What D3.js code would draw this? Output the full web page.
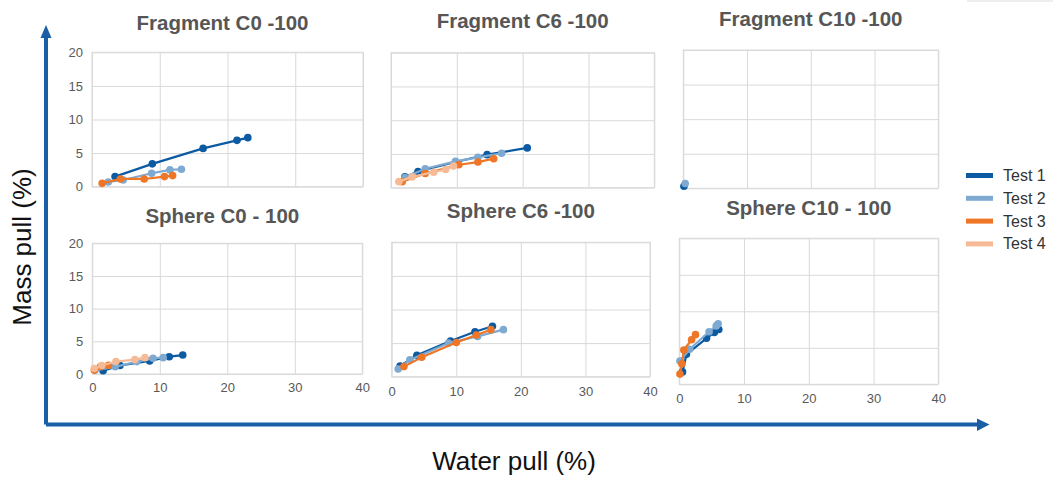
<!DOCTYPE html>
<html>
<head>
<meta charset="utf-8">
<script src="https://cdn.jsdelivr.net/npm/d3@7"></script>
<style>
  body { margin: 0; background: #fff; }
  text { font-family: "Liberation Sans", Arial, sans-serif; }
</style>
</head>
<body>
<div id="chart"></div>
<script>
// tick values shared by every panel
const xTicks = [0, 10, 20, 30, 40]
const yTicks = [0, 5, 10, 15, 20]
const tests = ['Test 1', 'Test 2', 'Test 3', 'Test 4']
const colors = ['#0b5aa2', '#7eaad2', '#ee7626', '#f6bb96']

// [water pull, mass pull] per test, one array per panel
const fragmentC0 = [
    [[3.4, 1.5], [8.9, 3.4], [16.4, 5.7], [21.4, 6.9], [23.0, 7.3]],
    [[2.4, 0.7], [4.6, 1.0], [8.8, 2.0], [11.5, 2.5], [13.2, 2.6]],
    [[1.5, 0.5], [4.2, 1.15], [7.7, 1.15], [10.7, 1.5], [11.9, 1.65]],
    []
]
const fragmentC6 = [
    [[2.1, 1.6], [4.1, 2.4], [9.8, 3.8], [14.6, 4.9], [20.7, 5.9]],
    [[2.1, 1.5], [5.2, 2.8], [9.8, 3.9], [13.2, 4.5], [16.8, 5.1]],
    [[1.7, 0.9], [5.2, 2.1], [10.3, 3.4], [13.2, 3.8], [15.6, 4.3]],
    [[1.2, 0.9], [3.2, 1.6], [6.5, 2.3], [8.3, 2.7], [9.5, 3.2]]
]
const fragmentC10 = [
    [[0.1, 0.3]],
    [[0.3, 0.7]],
    [],
    []
]
const sphereC0 = [
    [[1.6, 0.5], [4.1, 1.3], [8.5, 2.0], [11.4, 2.65], [13.4, 2.9]],
    [[0.4, 0.6], [3.4, 1.1], [6.6, 1.9], [9.0, 2.4], [10.5, 2.5]],
    [[0.3, 0.6], [1.2, 1.1], [2.4, 1.35]],
    [[0.3, 0.85], [1.4, 1.3], [3.5, 1.9], [6.3, 2.2], [7.8, 2.5]]
]
const sphereC6 = [
    [[1.3, 1.6], [3.9, 3.2], [9.1, 5.3], [12.9, 6.7], [15.6, 7.5]],
    [[1.0, 1.15], [2.8, 2.5], [8.8, 5.0], [13.3, 6.0], [17.3, 7.0]],
    [[1.9, 1.5], [4.65, 2.9], [10.0, 5.1], [13.1, 6.2], [15.35, 7.0]],
    []
]
const sphereC10 = [
    [[0.5, 1.7], [1.1, 4.1], [4.2, 6.3], [5.4, 7.1], [6.1, 7.5]],
    [[0.1, 3.2], [1.6, 4.8], [4.6, 7.2], [5.7, 8.0], [6.0, 8.3]],
    [[0.1, 1.4], [0.4, 2.8], [0.7, 4.7], [1.9, 6.1], [2.5, 6.8]],
    []
]

const W = 1054, H = 483

// plot boxes (left, right, top, bottom) and title baselines
const panels = [
    { title: 'Fragment C0 -100', data: fragmentC0, box: [92, 363, 52.3, 186.7], ty: 29.5, yLab: true, xLab: false, pad: 9 },
    { title: 'Fragment C6 -100', data: fragmentC6, box: [391, 654.3, 52.7, 187.7], ty: 27.5, yLab: false, xLab: false, pad: 9 },
    { title: 'Fragment C10 -100', data: fragmentC10, box: [683.3, 938.3, 50, 188.3], ty: 26, yLab: false, xLab: false, pad: 9 },
    { title: 'Sphere C0 - 100', data: sphereC0, box: [92.3, 362.3, 243.3, 374], ty: 222.5, yLab: true, xLab: true, pad: 9 },
    { title: 'Sphere C6 -100', data: sphereC6, box: [391.7, 650, 242.3, 376.7], ty: 217.5, yLab: false, xLab: true, pad: 10 },
    { title: 'Sphere C10 - 100', data: sphereC10, box: [679.3, 938.3, 238.3, 384.3], ty: 214.5, yLab: false, xLab: true, pad: 9 },
]

const svg = d3.select('#chart').append('svg')
    .attr('width', W)
    .attr('height', H)

svg.append('rect').attr('x', 967).attr('y', 0).attr('width', 86).attr('height', 2).attr('fill', '#eeeeee')

panels.forEach(p => {
    const [l, r, t, b] = p.box
    const x = d3.scaleLinear().domain([0, 40]).range([l, r])
    const y = d3.scaleLinear().domain([0, 20]).range([b, t])
    const g = svg.append('g')

    // grid through axes
    const gy = g.append('g')
        .attr('transform', 'translate(' + l + ',0)')
        .call(d3.axisLeft(y).tickValues(yTicks).tickSize(-(r - l)).tickPadding(9))
    const gx = g.append('g')
        .attr('transform', 'translate(0,' + b + ')')
        .call(d3.axisBottom(x).tickValues(xTicks).tickSize(-(b - t)).tickPadding(p.pad))
    ;[gx, gy].forEach(a => {
        a.select('.domain').remove()
        a.selectAll('line').attr('stroke', '#d9d9d9')
        a.selectAll('text').attr('fill', '#595959').style('font-size', '13px')
    })
    if (!p.yLab) gy.selectAll('text').remove()
    if (!p.xLab) gx.selectAll('text').remove()
    g.append('rect')
        .attr('x', l).attr('y', t).attr('width', r - l).attr('height', b - t)
        .attr('fill', 'none').attr('stroke', '#d9d9d9')

    g.append('text')
        .attr('x', (l + r) / 2 - (p.yLab ? 5 : 0))
        .attr('y', p.ty)
        .attr('text-anchor', 'middle')
        .attr('fill', '#565656')
        .style('font-size', '20.5px')
        .style('font-weight', 'bold')
        .text(p.title)

    const line = d3.line().x(d => x(d[0])).y(d => y(d[1]))
    p.data.forEach((series, i) => {
        if (!series.length) return
        const s = g.append('g')
        s.append('path')
            .attr('d', line(series))
            .attr('fill', 'none')
            .attr('stroke', colors[i])
            .attr('stroke-width', 2.2)
        s.selectAll('circle').data(series).join('circle')
            .attr('cx', d => x(d[0]))
            .attr('cy', d => y(d[1]))
            .attr('r', 3.8)
            .attr('fill', colors[i])
    })
})

// legend
const lg = svg.append('g')
tests.forEach((name, i) => {
    const yy = 175.5 + i * 22.8
    lg.append('line')
        .attr('x1', 966).attr('x2', 993).attr('y1', yy).attr('y2', yy)
        .attr('stroke', colors[i]).attr('stroke-width', 5)
    lg.append('text')
        .attr('x', 1003).attr('y', yy + 5.5)
        .attr('fill', '#333')
        .style('font-size', '16px')
        .text(name)
})

// big framing arrows
const arrowColor = '#1a5ea6'
svg.append('path')
    .attr('d', 'M46,424.5 V36 M46,424.5 H978')
    .attr('fill', 'none')
    .attr('stroke', arrowColor)
    .attr('stroke-width', 4)
svg.append('path').attr('d', 'M40.5,38 L46,25 L51.5,38 Z').attr('fill', arrowColor)
svg.append('path').attr('d', 'M977,418.5 L989.5,424.5 L977,431 Z').attr('fill', arrowColor)

svg.append('text')
    .attr('transform', 'translate(31,247) rotate(-90)')
    .attr('text-anchor', 'middle')
    .attr('fill', '#111')
    .style('font-size', '26px')
    .text('Mass pull (%)')
svg.append('text')
    .attr('x', 514).attr('y', 470)
    .attr('text-anchor', 'middle')
    .attr('fill', '#111')
    .style('font-size', '26px')
    .text('Water pull (%)')
</script>
</body>
</html>
